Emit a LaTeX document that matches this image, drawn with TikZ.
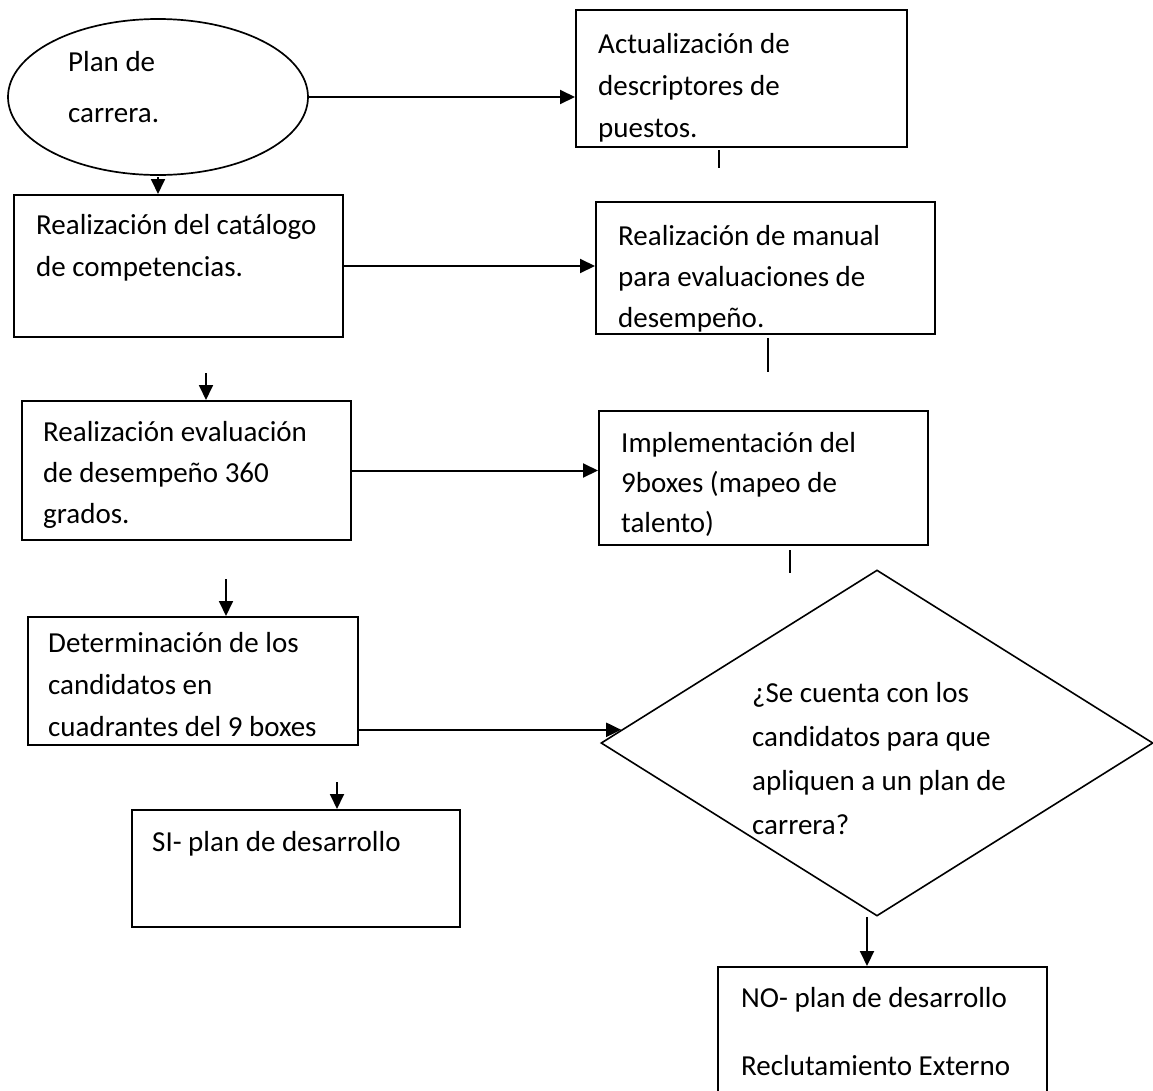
\documentclass[tikz,border=0pt]{standalone}
\usepackage{fontspec}
\setmainfont{Carlito}
\usetikzlibrary{arrows.meta,shapes.geometric,calc}
% multi-line text block, aligned on its first baseline
\newcommand{\mlines}[2]{\fontsize{29}{#1}\selectfont\begin{tabular}[t]{@{}l@{}}#2\end{tabular}}
\begin{document}
\begin{tikzpicture}[x=1pt,y=-1pt,
  box/.style={draw,line width=2pt,rectangle,inner sep=0pt},
  txt/.style={inner sep=0pt,anchor=base west,font=\fontsize{29}{42}\selectfont},
  arr/.style={line width=2pt,-{Triangle[length=15pt,width=14pt]}},
  sarr/.style={line width=1.8pt,-{Triangle[length=15pt,width=14pt]}},
  tick/.style={line width=1.5pt}]
\useasboundingbox (0,0) rectangle (1153,1090);
\fill[white] (0,0) rectangle (1153,1090);
\clip (0,0) rectangle (1153,1090);

% shapes
\node[draw,line width=1.7pt,ellipse,minimum width=300pt,minimum height=156pt,inner sep=0pt] (ell) at (158,97) {};
\node[box,minimum width=331pt,minimum height=137pt] (act) at (741.5,78.5) {};
\node[box,minimum width=329pt,minimum height=142pt] (cat) at (178.5,266) {};
\node[box,minimum width=339pt,minimum height=132pt] (man) at (765.5,268) {};
\node[box,minimum width=329pt,minimum height=139pt] (b360) at (186.5,470.5) {};
\node[box,minimum width=329pt,minimum height=134pt] (imp) at (763.5,478) {};
\node[box,minimum width=330pt,minimum height=128pt] (det) at (193,681) {};
\node[draw,line width=1.6pt,diamond,minimum width=552pt,minimum height=346pt,inner sep=0pt] (dia) at (877,743) {};
\node[box,minimum width=328pt,minimum height=117pt] (si) at (296,868.5) {};
\node[box,minimum width=329pt,minimum height=133pt] (no) at (882.5,1033.5) {};

% texts
\node[txt] (tell) at (68,71) {\mlines{51pt}{Plan de\\carrera.}};
\node[txt] (tact) at (598,53) {\mlines{42pt}{Actualización de\\descriptores de\\puestos.}};
\node[txt] (tcat) at (36,234) {\mlines{42pt}{Realización del catálogo\\de competencias.}};
\node[txt] (tman) at (618,245) {\mlines{41pt}{Realización de manual\\para evaluaciones de\\desempeño.}};
\node[txt] (t360) at (43,441) {\mlines{41pt}{Realización evaluación\\de desempeño 360\\grados.}};
\node[txt] (timp) at (621,452) {\mlines{40pt}{Implementación del\\9boxes (mapeo de\\talento)}};
\node[txt] (tdet) at (48,652) {\mlines{42pt}{Determinación de los\\candidatos en\\cuadrantes del 9 boxes}};
\node[txt] (tdia) at (752,702) {\mlines{44pt}{¿Se cuenta con los\\candidatos para que\\apliquen a un plan de\\carrera?}};
\node[txt] (tsi) at (152,851) {\mlines{42pt}{SI- plan de desarrollo}};
\node[txt] (tno) at (741,1007) {\mlines{68pt}{NO- plan de desarrollo\\Reclutamiento Externo}};

% horizontal connectors
\draw[arr] (ell.east) -- (ell.east -| act.west);
\draw[arr] (cat.east) -- (cat.east -| man.west);
\draw[arr] (b360.east) -- (b360.east -| imp.west);
\coordinate (dhit) at ($(dia.west)!0.076!(dia.north)$);
\draw[arr] (det.east |- dhit) -- (dhit);

% short downward arrows on the left column
\coordinate (s1) at (158,177);
\draw[sarr] (s1) -- (s1 |- cat.north);
\coordinate (s2) at (206,373);
\draw[sarr] (s2) -- (s2 |- b360.north);
\coordinate (s3) at (226,579);
\draw[sarr] (s3) -- (s3 |- det.north);
\coordinate (s4) at (337,782);
\draw[sarr] (s4) -- (s4 |- si.north);
\draw[arr] ([xshift=-10pt]dia.south) -- ([xshift=-10pt]dia.south |- no.north);

% short stubs below the right column boxes
\coordinate (k1) at (719,150);
\draw[tick] (k1) -- ++(0,18);
\coordinate (k2) at (768,338);
\draw[tick] (k2) -- ++(0,34);
\coordinate (k3) at (790,550);
\draw[tick] (k3) -- ++(0,23);
\end{tikzpicture}
\end{document}
